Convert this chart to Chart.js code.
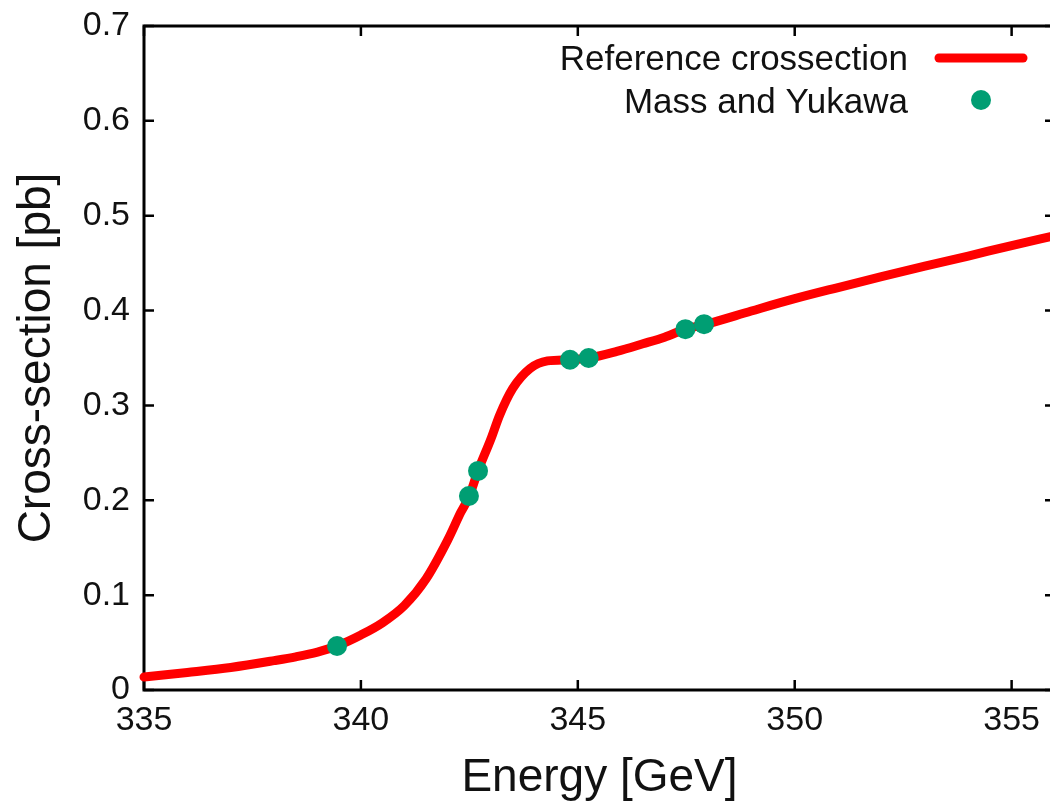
<!DOCTYPE html>
<html>
<head>
<meta charset="utf-8">
<script src="https://cdn.jsdelivr.net/npm/chart.js@4"></script>
<style>
  html, body { margin: 0; padding: 0; background: #fff; overflow: hidden; }
  #wrap { position: absolute; left: 0; top: 0; width: 1065px; height: 806px; }
</style>
</head>
<body>
<div id="wrap"><canvas id="xsecChart"></canvas></div>
<script>
// reference cross-section curve
const curveEnergy = [335.0, 336.0, 337.0, 338.0, 338.5, 339.0, 339.45, 340.0, 340.5, 341.0,
    341.5, 342.0, 342.3, 342.5, 342.7, 343.0, 343.2, 343.5, 343.9, 344.3, 344.8, 345.25,
    345.9, 346.5, 347.0, 347.48, 348.0, 349.0, 350.0, 351.0, 352.0, 353.0, 354.0, 355.0, 356.0];
const curveXsec = [0.0137, 0.0185, 0.0238, 0.0310, 0.0350, 0.0400, 0.0464, 0.0580, 0.0710, 0.0890,
    0.1170, 0.1580, 0.1870, 0.2045, 0.2310, 0.2650, 0.2900, 0.3180, 0.3390, 0.3470, 0.3482, 0.3500,
    0.3570, 0.3650, 0.3720, 0.3804, 0.3862, 0.3995, 0.4125, 0.4243, 0.4358, 0.4468, 0.4575, 0.4685, 0.4790];

// "Mass and Yukawa" points
const pointEnergy = [339.45, 342.49, 342.70, 344.82, 345.25, 347.48, 347.91];
const pointXsec = [0.0464, 0.2045, 0.2310, 0.3482, 0.3500, 0.3804, 0.3857];

const seriesNames = ['Reference crossection', 'Mass and Yukawa'];
const xAxisTitle = 'Energy [GeV]';
const yAxisTitle = 'Cross-section [pb]';

const FONT = '"Liberation Sans", Arial, sans-serif';
const RED = '#ff0000';
const GREEN = '#009e73';

// gnuplot style frame with inward ticks on all four sides
const framePlugin = {
    id: 'frame',
    beforeDatasetsDraw(chart) {
        const { ctx, chartArea: a, scales: { x, y } } = chart;
        ctx.save();
        ctx.strokeStyle = '#000';
        ctx.lineWidth = 3;
        ctx.strokeRect(a.left, a.top, a.right - a.left, a.bottom - a.top);
        ctx.lineWidth = 2.5;
        ctx.beginPath();
        x.ticks.forEach(t => {
            const px = x.getPixelForValue(t.value);
            ctx.moveTo(px, a.bottom); ctx.lineTo(px, a.bottom - 10);
            ctx.moveTo(px, a.top); ctx.lineTo(px, a.top + 10);
        });
        y.ticks.forEach(t => {
            const py = y.getPixelForValue(t.value);
            ctx.moveTo(a.left, py); ctx.lineTo(a.left + 10, py);
            ctx.moveTo(a.right, py); ctx.lineTo(a.right - 10, py);
        });
        ctx.stroke();
        ctx.restore();
    }
};

// key in the top right corner: text first, sample to its right
const keyPlugin = {
    id: 'key',
    afterDraw(chart) {
        const { ctx } = chart;
        const line = chart.data.datasets[1];
        const pts = chart.data.datasets[0];
        ctx.save();
        ctx.font = '35px ' + FONT;
        ctx.fillStyle = '#111';
        ctx.textAlign = 'right';
        ctx.textBaseline = 'middle';
        ctx.fillText(line.label, 908, 60);
        ctx.fillText(pts.label, 908, 103);
        ctx.strokeStyle = line.borderColor;
        ctx.lineWidth = 9;
        ctx.lineCap = 'round';
        ctx.beginPath();
        ctx.moveTo(939, 58);
        ctx.lineTo(1023, 58);
        ctx.stroke();
        ctx.fillStyle = pts.backgroundColor;
        ctx.beginPath();
        ctx.arc(981, 100, 10, 0, Math.PI * 2);
        ctx.fill();
        ctx.restore();
    }
};

new Chart(document.getElementById('xsecChart'), {
    type: 'scatter',
    data: {
        datasets: [{
            label: seriesNames[1],
            data: pointEnergy.map((e, i) => ({ x: e, y: pointXsec[i] })),
            backgroundColor: GREEN,
            borderWidth: 0,
            pointRadius: 10,
            pointHoverRadius: 10,
            showLine: false,
            clip: false
        }, {
            label: seriesNames[0],
            data: curveEnergy.map((e, i) => ({ x: e, y: curveXsec[i] })),
            borderColor: RED,
            backgroundColor: RED,
            borderWidth: 9,
            borderCapStyle: 'round',
            borderJoinStyle: 'round',
            pointRadius: 0,
            pointHoverRadius: 0,
            showLine: true,
            cubicInterpolationMode: 'monotone',
            clip: false
        }]
    },
    options: {
        responsive: true,
        maintainAspectRatio: false,
        animation: false,
        layout: { padding: { top: 26, right: 0, left: 0, bottom: 0 } },
        plugins: {
            legend: { display: false },
            tooltip: { enabled: false }
        },
        scales: {
            x: {
                type: 'linear',
                min: 335,
                max: 356,
                grid: { display: false, drawTicks: false },
                border: { display: false },
                ticks: {
                    stepSize: 5,
                    includeBounds: false,
                    maxRotation: 0,
                    padding: 10,
                    color: '#111',
                    font: { family: FONT, size: 34 }
                },
                title: {
                    display: true,
                    text: xAxisTitle,
                    color: '#111',
                    padding: { top: 0, bottom: 0 },
                    font: { family: FONT, size: 46 }
                },
                afterFit(scale) {
                    scale.height = 116;
                    scale.paddingLeft = 0;
                    scale.paddingRight = 0;
                }
            },
            y: {
                min: 0,
                max: 0.7,
                grid: { display: false, drawTicks: false },
                border: { display: false },
                ticks: {
                    stepSize: 0.1,
                    padding: 14,
                    color: '#111',
                    font: { family: FONT, size: 34 }
                },
                title: {
                    display: true,
                    text: yAxisTitle,
                    color: '#111',
                    padding: { top: 10, bottom: 0 },
                    font: { family: FONT, size: 46 }
                },
                afterFit(scale) {
                    scale.width = 144;
                    scale.paddingTop = 0;
                    scale.paddingBottom = 0;
                }
            }
        }
    },
    plugins: [framePlugin, keyPlugin]
});
</script>
</body>
</html>
